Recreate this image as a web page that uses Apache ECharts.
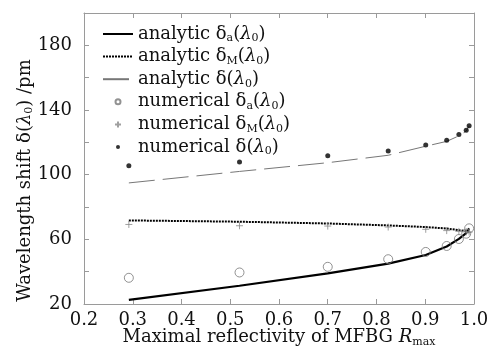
<!DOCTYPE html>
<html>
<head>
<meta charset="utf-8">
<script src="https://cdn.jsdelivr.net/npm/echarts@6/dist/echarts.min.js"></script>
<style>
  html, body { margin: 0; padding: 0; background: #fff; }
  #chart { width: 489px; height: 349px; }
</style>
</head>
<body>
<div id="chart"></div>
<script>
// reflectivity values where the curves / points were computed
var xR = [0.292, 0.519, 0.700, 0.824, 0.901, 0.944, 0.969, 0.984, 0.990];

// analytic curves (pm)
var anaA = [22.5, 31.3, 38.9, 45.0, 50.3, 55.6, 60.3, 63.8, 66.8];
var anaM = [71.7, 70.9, 69.8, 68.6, 67.6, 66.7, 65.7, 65.0, 64.4];
var anaD = [94.9, 102.0, 107.4, 112.0, 117.6, 120.6, 124.0, 127.0, 130.0];

// numerical results (pm)
var numA = [36.2, 39.5, 43.0, 47.7, 52.2, 55.9, 60.2, 63.5, 66.8];
var numM = [69.2, 68.4, 68.2, 67.6, 66.2, 65.4, 64.9, 64.6, 64.5];
var numD = [105.5, 107.8, 111.7, 114.6, 118.3, 121.3, 124.8, 127.5, 130.2];

var xTicks = [0.2, 0.3, 0.4, 0.5, 0.6, 0.7, 0.8, 0.9, 1.0];
var yLabels = [20, 60, 100, 140, 180];

var seriesNames = [
  'analytic δa(λ0)', 'analytic δM(λ0)', 'analytic δ(λ0)',
  'numerical δa(λ0)', 'numerical δM(λ0)', 'numerical δ(λ0)'
];
var legendRich = [
  '{n|analytic δ}{s|a}{n|(}{l|λ}{s|0}{n|)}',
  '{n|analytic δ}{s|M}{n|(}{l|λ}{s|0}{n|)}',
  '{n|analytic δ(}{l|λ}{s|0}{n|)}',
  '{n|numerical δ}{s|a}{n|(}{l|λ}{s|0}{n|)}',
  '{n|numerical δ}{s|M}{n|(}{l|λ}{s|0}{n|)}',
  '{n|numerical δ(}{l|λ}{s|0}{n|)}'
];

function pairs(xs, ys) {
  return xs.map(function (x, i) { return [x, ys[i]]; });
}

var FONT = 'DejaVu Serif';
var rich = {
  n: { fontFamily: FONT, fontSize: 18, lineHeight: 22, color: '#111' },
  l: { fontFamily: FONT, fontSize: 18, lineHeight: 22, fontStyle: 'italic', color: '#111' },
  s: { fontFamily: FONT, fontSize: 11, lineHeight: 11, padding: [9, 0, 0, 0], color: '#111' }
};

var chart = echarts.init(document.getElementById('chart'), null, { renderer: 'canvas' });

var axisCommon = {
  axisLine: { show: true, lineStyle: { color: '#9a9a9a', width: 1 } },
  axisTick: { show: true, inside: true, length: 5, lineStyle: { color: '#9a9a9a' } },
  splitLine: { show: false }
};

var option = {
  animation: false,
  backgroundColor: '#fff',
  grid: { left: 84, right: 15, top: 13, bottom: 45, containLabel: false, outerBoundsMode: 'none' },
  legend: {
    orient: 'vertical',
    left: 102,
    top: 24,
    padding: 0,
    itemWidth: 30,
    itemHeight: 14,
    itemGap: 2.6,
    data: seriesNames.map(function (nm, i) {
      var d = { name: nm };
      if (i < 3) d.itemStyle = { opacity: 0 };
      if (i === 3) d.icon = 'path://M0,0M30,14M17.5,7A2.5,2.5,0,1,1,12.5,7A2.5,2.5,0,1,1,17.5,7Z';
      if (i === 4) d.icon = 'path://M0,0M30,14M12,7L18,7M15,4L15,10';
      if (i === 5) d.icon = 'path://M0,0M30,14M17,7A2,2,0,1,1,13,7A2,2,0,1,1,17,7Z';
      return d;
    }),
    formatter: function (nm) { return legendRich[seriesNames.indexOf(nm)]; },
    textStyle: { rich: rich }
  },
  xAxis: [
    echarts.util.merge({
      type: 'value', min: 0.2, max: 1.0, interval: 0.1, position: 'bottom',
      name: '{n|Maximal reflectivity of MFBG }{l|R}{x|max}',
      nameLocation: 'middle', nameGap: 22, nameMoveOverlap: false,
      nameTextStyle: { rich: {
        n: { fontFamily: FONT, fontSize: 18, lineHeight: 22, color: '#111' },
        l: { fontFamily: FONT, fontSize: 18, lineHeight: 22, fontStyle: 'italic', color: '#111' },
        x: { fontFamily: FONT, fontSize: 11, lineHeight: 11, padding: [10, 0, 0, 0], color: '#111' }
      } },
      axisLabel: {
        margin: 7, fontFamily: FONT, fontSize: 18, color: '#111',
        formatter: function (v) { return v.toFixed(1); }
      }
    }, axisCommon, true),
    echarts.util.merge({
      type: 'value', min: 0.2, max: 1.0, interval: 0.1, position: 'top',
      axisLabel: { show: false }
    }, axisCommon, true)
  ],
  yAxis: [
    echarts.util.merge({
      type: 'value', min: 20, max: 200, interval: 20, position: 'left',
      name: '{n|Wavelength shift δ(}{l|λ}{s|0}{n|) /pm}',
      nameLocation: 'middle', nameGap: 48, nameRotate: 90, nameMoveOverlap: false,
      nameTextStyle: { rich: rich, padding: [0, 44, 0, 0] },
      axisLabel: {
        margin: 12, fontFamily: FONT, fontSize: 18, color: '#111',
        formatter: function (v) { return yLabels.indexOf(v) >= 0 ? String(v) : ''; }
      }
    }, axisCommon, true),
    echarts.util.merge({
      type: 'value', min: 20, max: 200, interval: 20, position: 'right',
      axisLabel: { show: false }
    }, axisCommon, true)
  ],
  series: [
    {
      name: seriesNames[0], type: 'line', data: pairs(xR, anaA), symbol: 'none',
      lineStyle: { color: '#000', width: 2.2, type: 'solid' },
      itemStyle: { color: '#000', opacity: 0 }, z: 3
    },
    {
      name: seriesNames[1], type: 'line', data: pairs(xR, anaM), symbol: 'none',
      lineStyle: { color: '#000', width: 2, type: [2, 1] },
      itemStyle: { color: '#000', opacity: 0 }, z: 3
    },
    {
      name: seriesNames[2], type: 'line', data: pairs(xR, anaD), symbol: 'none',
      lineStyle: { color: '#777', width: 1, type: [26, 8] },
      itemStyle: { color: '#777', opacity: 0 }, z: 3
    },
    {
      name: seriesNames[3], type: 'scatter', data: pairs(xR, numA),
      symbol: 'circle', symbolSize: 9,
      itemStyle: { color: 'rgba(255,255,255,0)', borderColor: '#777', borderWidth: 1 }, z: 4
    },
    {
      name: seriesNames[4], type: 'scatter', data: pairs(xR, numM),
      symbol: 'path://M0,5L10,5M5,0L5,10', symbolSize: 7,
      itemStyle: { color: 'rgba(255,255,255,0)', borderColor: '#888', borderWidth: 1 }, z: 4
    },
    {
      name: seriesNames[5], type: 'scatter', data: pairs(xR, numD),
      symbol: 'circle', symbolSize: 5,
      itemStyle: { color: '#000' }, z: 4
    }
  ]
};

chart.setOption(option);

window.addEventListener('resize', function () {
  chart.resize();
});
</script>
</body>
</html>
